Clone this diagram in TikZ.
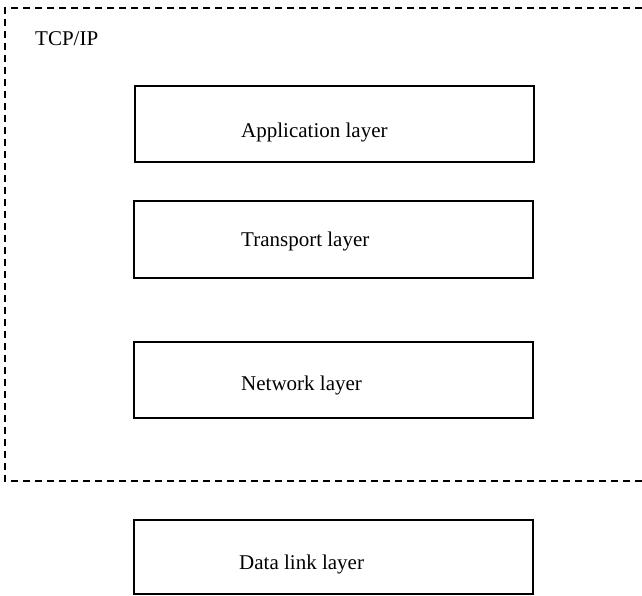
\documentclass[tikz,border=0pt]{standalone}
\usepackage{fontspec}
\setmainfont{Liberation Serif}
\begin{document}
\begin{tikzpicture}[x=1pt,y=-1pt,
  layerbox/.style={draw=black,line width=2pt,rectangle,minimum width=399pt,inner sep=0pt,anchor=north west},
  layertext/.style={anchor=base west,inner sep=0pt,font=\fontsize{21}{25}\selectfont},
  frameline/.style={draw=black,line width=1.8pt,dash pattern=on 7pt off 5pt}]
\useasboundingbox (0,0) rectangle (642,595);
% dashed TCP/IP frame (open on the right)
\coordinate (ftr) at (642,8);
\coordinate (ftl) at (5,8);
\coordinate (fbl) at (5,481);
\coordinate (fbr) at (642,481);
\draw[frameline] (ftr) -- (ftl) -- (fbl) -- (fbr);
\node[layertext] (tcp) at (35,45) {TCP/IP};
% layer boxes
\node[layerbox,minimum height=76pt] (app) at (134,85) {};
\node[layerbox,minimum height=77pt] (tra) at (133,200) {};
\node[layerbox,minimum height=76pt] (net) at (133,341) {};
\node[layerbox,minimum height=74pt] (dll) at (133,519) {};
% labels
\node[layertext] (appt) at (241,137) {Application layer};
\node[layertext] (trat) at (241,246) {Transport layer};
\node[layertext] (nett) at (241,390) {Network layer};
\node[layertext] (dllt) at (239,569) {Data link layer};
\end{tikzpicture}
\end{document}
